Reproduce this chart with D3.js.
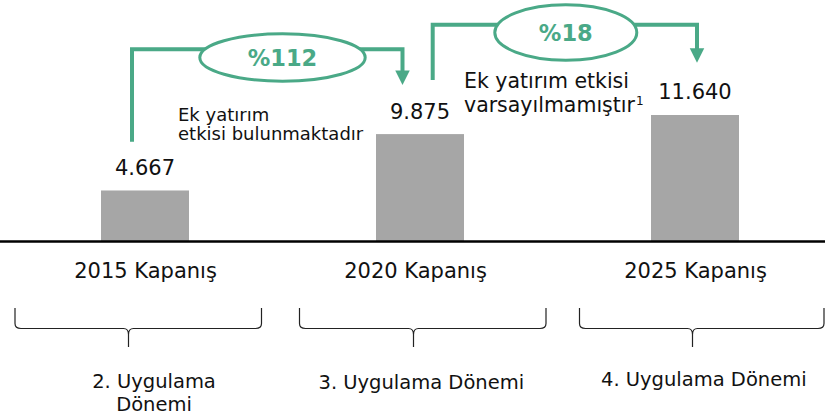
<!DOCTYPE html>
<html lang="tr">
<head>
<meta charset="utf-8">
<script src="https://cdn.jsdelivr.net/npm/d3@7"></script>
<style>
  html, body { margin: 0; padding: 0; background: #fff; }
  svg { display: block; font-family: "DejaVu Sans", Verdana, sans-serif; }
</style>
</head>
<body>
<svg id="chart" width="825" height="415"></svg>
<script>
// Closing balances per implementation period
const categories = ["2015 Kapanış", "2020 Kapanış", "2025 Kapanış"];
const values = [4667, 9875, 11640];
const periodLabels = [["2. Uygulama", "Dönemi"], ["3. Uygulama Dönemi"], ["4. Uygulama Dönemi"]];
const noteLines = [["Ek yatırım", "etkisi bulunmaktadır"], ["Ek yatırım etkisi", "varsayılmamıştır"]];

const GREEN = "#4aa987";
const BAR = "#a6a6a6";
const INK = "#111";

const W = 825, H = 415;
const svg = d3.select("#chart");

const trLocale = d3.formatLocale({ decimal: ",", thousands: ".", grouping: [3], currency: ["", " ₺"] });
const fmt = trLocale.format(",");

const x = d3.scalePoint().domain(categories).range([7.5, 832.5]).padding(0.5);
const y = d3.scaleLinear().domain([0, 12000]).range([241, 241 - 12000 * 0.010825]);
const barW = 88;

// Bars
svg.append("g").selectAll("rect")
  .data(values)
  .join("rect")
  .attr("x", (d, i) => x(categories[i]) - barW / 2)
  .attr("y", d => y(d))
  .attr("width", barW)
  .attr("height", d => y(0) - y(d))
  .attr("fill", BAR);

// Value labels
svg.append("g").selectAll("text")
  .data(values)
  .join("text")
  .attr("x", (d, i) => x(categories[i]))
  .attr("y", d => y(d) - 15.5)
  .attr("text-anchor", "middle")
  .attr("font-size", 21)
  .attr("fill", INK)
  .text(d => fmt(d));

// Baseline across the full width
svg.append("line")
  .attr("x1", 0).attr("x2", W)
  .attr("y1", y(0) + 0.5).attr("y2", y(0) + 0.5)
  .attr("stroke", "#000").attr("stroke-width", 2.5);

// Category labels via a bottom axis (no domain line, no ticks)
const xAxis = d3.axisBottom(x).tickSize(0).tickPadding(0);
const axisG = svg.append("g")
  .attr("transform", `translate(0,${y(0)})`)
  .call(xAxis);
axisG.select(".domain").remove();
axisG.selectAll(".tick text")
  .attr("font-size", 21)
  .attr("font-family", "DejaVu Sans, Verdana, sans-serif")
  .attr("fill", INK)
  .attr("dy", 0)
  .attr("y", 36.5)
  .attr("dx", (d, i) => (i === 1 ? -5 : 0));

// Braces under each category
const braces = [
  { l: 15, r: 261.5, c: 128.5 },
  { l: 299.5, r: 546, c: 413.5 },
  { l: 579.5, r: 824, c: 692.5 }
];
const yTop = 308, yMid = 328.5, yTail = 347;
svg.append("g").selectAll("path")
  .data(braces)
  .join("path")
  .attr("fill", "none")
  .attr("stroke", "#222")
  .attr("stroke-width", 1.2)
  .attr("d", b => {
    const p = d3.path();
    p.moveTo(b.l, yTop);
    p.lineTo(b.l, yMid - 5);
    p.quadraticCurveTo(b.l, yMid, b.l + 6, yMid);
    p.lineTo(b.c - 5, yMid);
    p.quadraticCurveTo(b.c, yMid, b.c, yMid + 6);
    p.lineTo(b.c, yTail);
    p.moveTo(b.c, yMid + 6);
    p.quadraticCurveTo(b.c, yMid, b.c + 5, yMid);
    p.lineTo(b.r - 6, yMid);
    p.quadraticCurveTo(b.r, yMid, b.r, yMid - 5);
    p.lineTo(b.r, yTop);
    return p.toString();
  });

// Period labels under the braces
const periodPos = [
  { cx: 154, y: 388 },
  { cx: 421.3, y: 389 },
  { cx: 703.8, y: 385.7 }
];
const periodG = svg.append("g");
periodLabels.forEach((lines, i) => {
  lines.forEach((s, j) => {
    periodG.append("text")
      .attr("text-anchor", "middle")
      .attr("font-size", 19.5)
      .attr("fill", INK)
      .attr("x", periodPos[i].cx)
      .attr("y", periodPos[i].y + j * 22.5)
      .text(s);
  });
});

// Growth arrows with percentage ovals
const growth = [
  { from: 0, to: 1, x1: x(categories[0]) - 13, yStart: 141.7, x2: x(categories[1]) - 17.5,
    yLine: 49.3, tip: 85, cx: 282.5, cy: 57.5, rx: 82.7, ry: 23.7 },
  { from: 1, to: 2, x1: x(categories[1]) + 12.7, yStart: 80, x2: x(categories[2]) + 2,
    yLine: 24.7, tip: 62.7, cx: 565.8, cy: 32.5, rx: 71, ry: 27.7 }
];
const arrowG = svg.append("g");
growth.forEach(g => {
  const pct = Math.round((values[g.to] / values[g.from] - 1) * 100);
  const headH = 14.5, headW = 14.5;
  arrowG.append("path")
    .attr("fill", "none")
    .attr("stroke", GREEN)
    .attr("stroke-width", 4)
    .attr("stroke-linejoin", "miter")
    .attr("d", `M${g.x1},${g.yStart}V${g.yLine}H${g.x2}V${g.tip - headH + 1}`);
  arrowG.append("path")
    .attr("fill", GREEN)
    .attr("d", `M${g.x2 - headW / 2},${g.tip - headH}L${g.x2 + headW / 2},${g.tip - headH}L${g.x2},${g.tip}Z`);
  arrowG.append("ellipse")
    .attr("cx", g.cx).attr("cy", g.cy)
    .attr("rx", g.rx).attr("ry", g.ry)
    .attr("fill", "#fff")
    .attr("stroke", GREEN)
    .attr("stroke-width", 3);
  arrowG.append("text")
    .attr("x", g.cx)
    .attr("y", g.cy + 8.2)
    .attr("text-anchor", "middle")
    .attr("font-size", 22.5)
    .attr("font-weight", "bold")
    .attr("fill", GREEN)
    .text("%" + pct);
});

// Notes next to the arrows
const note1 = svg.append("text").attr("font-size", 18).attr("fill", INK);
noteLines[0].forEach((s, j) => {
  note1.append("tspan").attr("x", 178).attr("y", 121 + j * 19).text(s);
});
const note2 = svg.append("text").attr("font-size", 20.5).attr("fill", INK);
noteLines[1].forEach((s, j) => {
  note2.append("tspan").attr("x", 464).attr("y", 88 + j * 24).text(s);
});
note2.append("tspan")
  .attr("font-size", 12)
  .attr("dy", -7)
  .attr("dx", 1)
  .text("1");
</script>
</body>
</html>
